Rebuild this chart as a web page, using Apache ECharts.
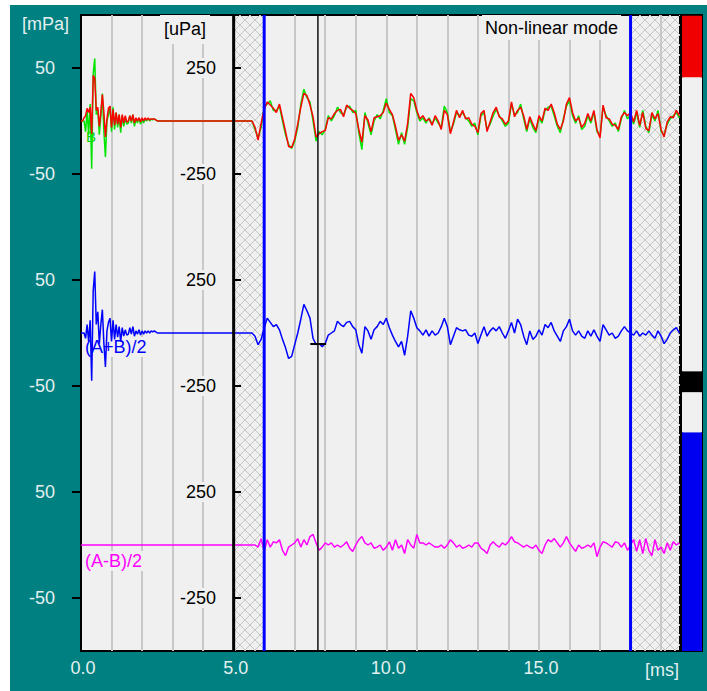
<!DOCTYPE html>
<html>
<head>
<meta charset="utf-8">
<title>Non-linear mode</title>
<script src="https://cdn.jsdelivr.net/npm/echarts@6/dist/echarts.min.js"></script>
<style>
  html, body { margin: 0; padding: 0; background: #ffffff; }
  #chart { position: absolute; left: 10px; top: 5px; width: 697px; height: 686px; }
</style>
</head>
<body>
<div id="chart"></div>
<script>
  // sampling of the recorded traces
  const EARLY_DT = 0.05   // ms, stimulus ringing 0 .. 2.5 ms
  const LATE_T0 = 5.6     // ms, start of the response window
  const LATE_DT = 0.1     // ms
  const X_MAX = 19.62     // ms, right edge of the plot

  // channel A (red) and B (green), mPa
  const aEarly = [0, 0, 3, 5, 12, 8, 13, -12, 43, 40, 10, 13, -5, 8, 25, 8, -15, 2, 12, 14, -6, 11, -4, 8, -3, 6, -6, 6, -2, 5, -1, 0, 5, 0, 6, -2, 3, 0, 3, -1, 3, 0, 3, 1, 3, 1, 2, 2, 2, 1, 0]
  const bEarly = [0, 0, 0, -10, 10, -13, 16, -45, 45, 59, 6, 11, -13, 5, 26, -10, -34, 0, 6, 14, -10, 13, -8, 8, -6, 6, -11, 5, -5, 3, -3, -2, 5, -2, 6, -5, 2, -2, 3, -3, 2, -2, 2, 0, 2.5, 0, 2, 1, 2, 1, 0]
  const aLate = [0, -6, -18, -2, 11, 18, 15, 12, 8, 16, 3, -10, -24, -25, -17, -3, 13, 26, 24, 15,
    4, -15, -12, -10, -9, 3, 2, 7, 10, 11, 4, 15, 12, 10, 7, -8, -20, 5, 1, -10,
    3, 4, 5, 8, 17, 11, 6, -5, -18, -13, -19, -2, 26, 22, 10, 2, 5, 0, 2, -4,
    5, 0, -8, 10, 6, -12, -1, 10, 3, 10, 2, 3, -3, -5, -11, 7, 10, -10, -1, 8,
    13, 4, 2, -3, 0, 18, 4, 10, 13, 5, -8, 4, -3, -9, 5, 0, 12, 10, 16, 8,
    -3, -8, 0, 16, 22, 8, 0, 3, -6, -2, 7, 0, 10, -8, -16, 15, 3, 2, -3, -4,
    -8, 4, 8, 5, 8, -1, 10, -4, 8, -7, -9, 8, 2, 7, -8, -15, -1, 4, 3, 10, 5]
  const bLate = [0, -8, -16, -6, 13, 16, 19, 10, 10, 14, 0, -13, -22, -26, -19, -6, 16, 30, 22, 18,
    0, -19, -10, -13, -8, 5, 0, 5, 13, 8, 6, 13, 14, 8, 10, -11, -27, 8, -2, -13,
    0, 6, 2, 10, 21, 8, 5, -8, -22, -11, -22, -6, 21, 19, 8, 0, 3, -2, 3, -3,
    3, -2, -6, 14, 8, -10, -3, 8, 5, 8, 3, 0, -5, -2, -13, 5, 8, -8, -3, 5,
    11, 5, 0, -5, -2, 16, 6, 8, 16, 2, -10, 2, -6, -11, 3, -2, 10, 13, 14, 5,
    -5, -11, 2, 14, 19, 5, -2, 5, -8, -5, 5, -2, 8, -10, -14, 13, 5, 0, -5, -2,
    -10, 2, 10, 2, 6, -3, 8, -6, 10, -5, -11, 6, 0, 10, -10, -13, -3, 2, 5, 8, 3]

  // (A+B)/2, blue
  const sumEarly = [0, 0, 0, -5, 8, -8, 12, -45, 40, 58, 8, 20, -10, 8, 22, -10, -32, 2, 10, 14, -8, 12, -6, 8, -4, 6, -8, 5, -3, 3, -2, -1, 5, -1, 6, -3, 2, -1, 3, -2, 2, -1, 2, 0, 2, 0, 2, 1, 2, 1, 0]
  const sumLate = [0, -3, -11, -6, 5, 14, 10, 6, 8, 3, -6, -14, -24, -22, -11, 0, 13, 27, 21, 14,
    -5, -11, -10, -13, -10, -2, 0, 2, 11, 8, 6, 10, 11, 6, 3, -11, -19, 6, 2, -6,
    3, 6, 11, 8, 14, 5, -2, -8, -13, -8, -21, -3, 21, 14, 5, 2, -2, 3, -3, 2,
    -2, 0, 6, 14, 6, -11, -3, 5, 3, 2, 3, -2, -3, 0, -10, -2, 6, -3, 2, 5,
    2, 6, 0, -5, 2, 10, 0, 13, 8, -3, -11, 2, -6, -3, 3, -2, 8, 5, 10, 2,
    -3, -8, 2, 6, 13, 2, -2, 2, -3, -5, 2, -3, 3, -3, -8, 8, 3, -2, 0, -5,
    -3, 2, 6, 2, 0, -2, 2, -3, 0, -2, 2, -2, -5, 2, -3, -10, -6, 0, 3, 5, 0]

  // (A-B)/2, magenta
  const diffEarly = [0]
  const diffLate = [0, 0, -2, 6, -6, 5, -2, 3, 2, 5, -5, -10, -2, 0, 2, 6, -2, 5, 0, 8,
    10, 2, -5, -2, 2, 0, 2, -2, 0, -2, 0, 3, -3, -6, 0, 5, 8, 2, 0, 2,
    -3, -2, 0, -5, -2, 3, -5, 5, -3, 0, -8, 5, 0, -3, 10, 2, 2, 0, 2, 0,
    -2, -2, 0, -3, 0, 5, 2, -2, 0, -3, -2, 0, -2, 2, 2, -3, -5, -8, 0, 3,
    0, -2, 2, 0, 3, 8, 3, 2, 0, -2, 0, -2, -3, 0, -5, -8, 0, 5, 3, 6,
    2, -2, 2, 8, 2, -2, -6, 0, -3, -2, 0, -2, 2, -11, -2, 3, 2, 0, -2, 3,
    2, -2, 2, -5, 0, 5, -6, 5, -8, 6, -5, -10, 5, -5, -2, -8, 2, -5, 3, 0, 2]

  // markers on the time axis, ms
  const gateLines = [6.0, 18.0]
  const stimulusEnd = 5.0
  const cursorTime = 7.76
  const cursorLevel = -10.5
  const hatchedRanges = [[5.0, 6.0], [18.0, X_MAX]]

  // axis ticks
  const mpaTicks = [-50, 50]
  const upaTicks = [-250, 250]
  const timeLabels = [0, 5, 10, 15]

  // level meter on the right, bottom to top, percent of height
  const meterLevels = [34.4, 6.3, 3.3, 46.2, 9.7]
  const meterColors = ['#0000f0', '#f0f0f0', '#000000', '#f0f0f0', '#f00000']

  const FONT = 'Liberation Sans'
  const LIGHT = '#e4f0f0'
  const PANEL_TOP = [10, 222, 434]
  const PANEL_H = 212

  function toPoints(early, late) {
    const pts = []
    early.forEach((v, i) => pts.push([+(i * EARLY_DT).toFixed(3), v]))
    late.forEach((v, i) => pts.push([+(LATE_T0 + i * LATE_DT).toFixed(3), v]))
    return pts
  }

  // cross hatch tile for the blanked regions
  const tile = document.createElement('canvas')
  tile.width = 10
  tile.height = 10
  const ctx = tile.getContext('2d')
  ctx.strokeStyle = '#c6c6c6'
  ctx.lineWidth = 1
  ctx.beginPath()
  ctx.moveTo(0, 0); ctx.lineTo(10, 10)
  ctx.moveTo(10, 0); ctx.lineTo(0, 10)
  ctx.stroke()

  const chart = echarts.init(document.getElementById('chart'), null, { renderer: 'svg' })

  const grids = [{ left: 71, top: 10, width: 599, height: 636, show: true, backgroundColor: '#f0f0f0', borderColor: '#000', borderWidth: 2 }]
  PANEL_TOP.forEach(t => grids.push({ left: 71, top: t, width: 599, height: PANEL_H }))
  grids.push({ left: 672, top: 10, width: 20, height: 636, show: true, backgroundColor: '#f0f0f0', borderColor: '#000', borderWidth: 2 })

  const xAxes = [{
    gridIndex: 0, type: 'value', min: 0, max: X_MAX, interval: 1,
    axisLine: { show: false }, axisTick: { show: false },
    splitLine: { show: true, showMinLine: false, showMaxLine: false, lineStyle: { color: '#c8c8c8', width: 2 } },
    axisLabel: { customValues: timeLabels, formatter: v => v.toFixed(1), color: LIGHT, fontSize: 18, fontFamily: FONT, margin: 8, padding: [0, 0, 0, 4] }
  }]
  for (let i = 1; i <= 3; i++) xAxes.push({ gridIndex: i, type: 'value', min: 0, max: X_MAX, show: false })
  xAxes.push({ gridIndex: 4, type: 'category', data: ['level'], show: false })

  const yAxes = [{ gridIndex: 0, type: 'value', min: -1, max: 1, show: false }]
  for (let i = 1; i <= 3; i++) {
    yAxes.push({
      gridIndex: i, type: 'value', min: -100, max: 100, position: 'left',
      axisLine: { show: true, lineStyle: { color: '#000', width: 2 } }, splitLine: { show: false },
      axisTick: { show: true, customValues: mpaTicks, length: 9, lineStyle: { color: '#000', width: 2 } },
      axisLabel: { customValues: mpaTicks, margin: 26, color: LIGHT, fontSize: 18, fontFamily: FONT }
    })
  }
  for (let i = 1; i <= 3; i++) {
    yAxes.push({
      gridIndex: i, type: 'value', min: -500, max: 500, position: 'left', offset: -152, z: 1,
      axisLine: { show: false }, splitLine: { show: false },
      axisTick: { show: true, inside: true, customValues: upaTicks, length: 8, lineStyle: { color: '#000', width: 2 } },
      axisLabel: { customValues: upaTicks, margin: 15, color: '#000', fontSize: 18, fontFamily: FONT, backgroundColor: '#f0f0f0', padding: [1, 2] }
    })
  }
  yAxes.push({ gridIndex: 4, type: 'value', min: 0, max: 100, show: false })

  const trace = (name, color, xi, data) => ({
    name, type: 'line', xAxisIndex: xi, yAxisIndex: xi, data,
    symbol: 'none', silent: true, z: 3,
    lineStyle: { color, width: 1.5 }
  })

  // full-height vertical marker drawn on the frame grid
  const vline = (t, color, width) => ({
    type: 'line', xAxisIndex: 0, yAxisIndex: 0, data: [[t, -1], [t, 1]],
    symbol: 'none', silent: true, z: 5, lineStyle: { color, width, type: 'solid' }
  })

  const series = [
    {
      // blanked (hatched) time ranges, under the traces
      type: 'line', xAxisIndex: 0, yAxisIndex: 0, data: [[0, 0]], symbol: 'none', silent: true, z: 1,
      lineStyle: { width: 0 },
      markArea: {
        silent: true,
        itemStyle: { color: { image: tile, repeat: 'repeat' } },
        data: hatchedRanges.map(r => [{ xAxis: r[0] }, { xAxis: r[1] }])
      }
    },
    trace('B', '#00e400', 1, toPoints(bEarly, bLate)),
    trace('A', '#ff0000', 1, toPoints(aEarly, aLate)),
    Object.assign(trace('(A+B)/2', '#0000ff', 2, toPoints(sumEarly, sumLate)), {
      markLine: {
        silent: true, symbol: ['none', 'none'], label: { show: false },
        lineStyle: { color: '#000', width: 2, type: 'solid' },
        data: [[{ coord: [cursorTime - 0.25, cursorLevel] }, { coord: [cursorTime + 0.27, cursorLevel] }]]
      }
    }),
    trace('(A-B)/2', '#ff00ff', 3, toPoints(diffEarly, diffLate)),
    vline(stimulusEnd, '#000000', 3),
    ...gateLines.map(g => vline(g, '#0000ff', 3)),
    vline(cursorTime, '#111111', 1.5)
  ]
  meterLevels.forEach((v, i) => series.push({
    type: 'bar', xAxisIndex: 4, yAxisIndex: 7, stack: 'meter', data: [v],
    barWidth: '100%', silent: true, itemStyle: { color: meterColors[i] }
  }))

  const txt = (text, x, y, fill, extra) => ({
    type: 'text', x, y, z: 1, silent: true,
    style: Object.assign({ text, fill, fontSize: 18, fontFamily: FONT }, extra || {})
  })

  chart.setOption({
    animation: false,
    backgroundColor: '#008080',
    grid: grids,
    xAxis: xAxes,
    yAxis: yAxes,
    series,
    graphic: [
      txt('[mPa]', 12, 10, LIGHT),
      txt('[uPa]', 150, 10, '#000', { backgroundColor: '#f0f0f0', padding: [5, 4, 6, 4] }),
      txt('Non-linear mode', 472, 10, '#000', { backgroundColor: '#f0f0f0', padding: [4, 3, 3, 3] }),
      txt('[ms]', 635, 656, LIGHT),
      txt('B', 76, 124, '#00d000', { fontSize: 15 }),
      txt('(A+B)/2', 74, 332, '#0000ff', { backgroundColor: '#f0f0f0', padding: [1, 1] }),
      txt('(A-B)/2', 74, 546, '#ff00ff', { backgroundColor: '#f0f0f0', padding: [1, 1] })
    ]
  })
</script>
</body>
</html>
